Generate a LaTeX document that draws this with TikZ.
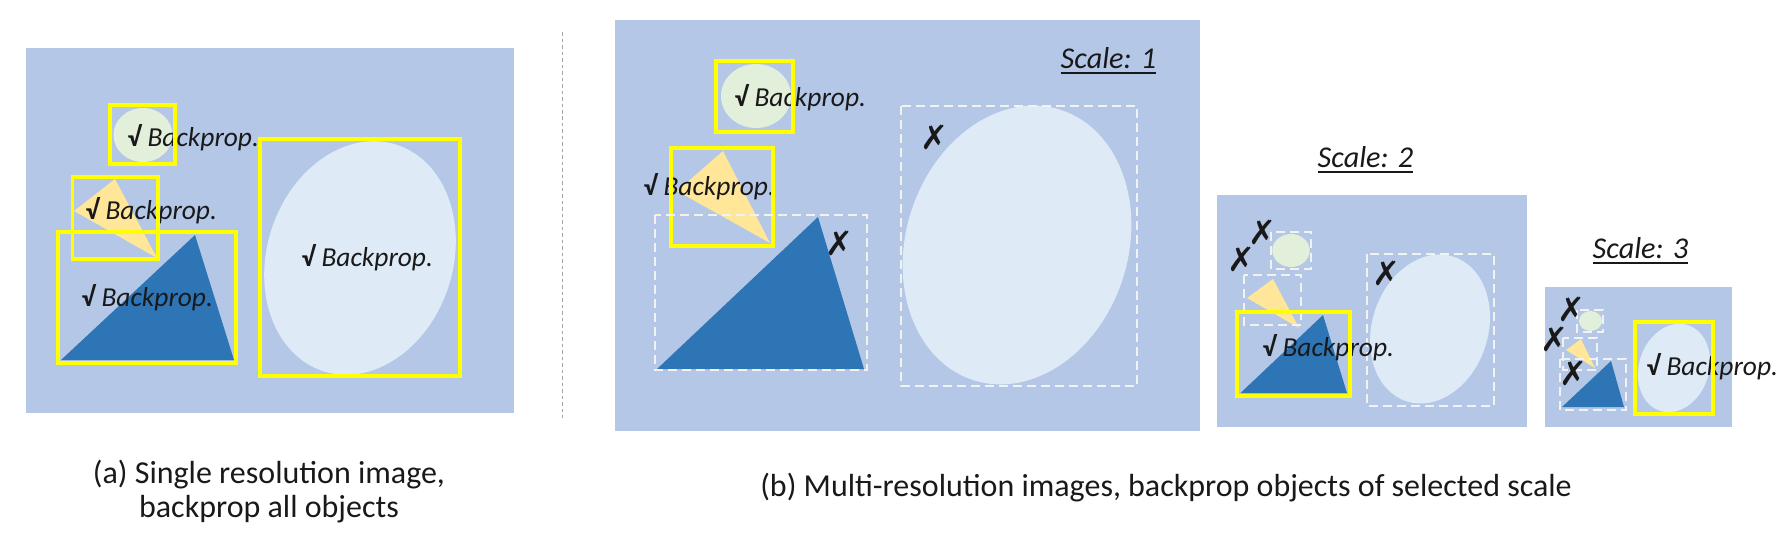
\documentclass[tikz,border=0pt]{standalone}
\usepackage{fontspec}
\setmainfont{Carlito}
\newfontfamily\symfont{DejaVu Sans}
\usetikzlibrary{positioning}

\definecolor{panelbg}{HTML}{B4C7E7}
\definecolor{ballgreen}{HTML}{E2EFDA}
\definecolor{conelight}{HTML}{FFE699}
\definecolor{wedgeblue}{HTML}{2E75B6}
\definecolor{eggpale}{HTML}{DEEBF7}
\definecolor{boxyellow}{HTML}{FFFF00}
\definecolor{boxwhite}{HTML}{F2F2F2}
\definecolor{sepgray}{HTML}{A6A6A6}

\newcommand{\bpok}{{\bfseries √} \textit{Backprop.}}

\begin{document}
\begin{tikzpicture}[x=0.1mm, y=-0.1mm,
    panel/.style={fill=panelbg},
    ybox/.style={draw=boxyellow, line width=0.33mm},
    wbox/.style={draw=boxwhite, line width=0.27mm, dash pattern=on 0.9mm off 0.5mm},
    bp/.style={anchor=base west, inner sep=0pt, text=black!90, font=\fontsize{7.8}{9}\selectfont},
    xm/.style={inner sep=0pt, text=black!90, font=\symfont\fontsize{9.5}{10}\selectfont},
    scl/.style={anchor=base west, inner sep=0pt, text=black!90, font=\fontsize{8.6}{10}\selectfont\itshape},
    captext/.style={anchor=base, inner sep=0pt, text=black!90, font=\fontsize{9.1}{11}\selectfont}]
    \useasboundingbox (0,0) rectangle (1788,545);

    % (a) single resolution
    \fill[panel] (26,48) rectangle (514,413);
    \fill[ballgreen] (143,135) ellipse [x radius=29.5, y radius=27];
    \fill[conelight] (115,179) -- (74,211) -- (157,258) -- cycle;
    \fill[wedgeblue] (61,360) -- (195,235) -- (234,360) -- cycle;
    \fill[eggpale, rotate around={-18:(360,258)}] (360,258) ellipse [x radius=93, y radius=119];
    \node[bp] (aball) at (127,146) {\bpok};
    \node[bp] (acone) at (85,219) {\bpok};
    \node[bp] (awedge) at (81,306) {\bpok};
    \node[bp] (aegg) at (301,266) {\bpok};
    \draw[ybox] (110,105) rectangle (175,164);
    \draw[ybox] (72.5,177) rectangle (158,259);
    \draw[ybox] (58,232) rectangle (236,363);
    \draw[ybox] (260,139) rectangle (460,376);

    % separator
    \draw[sepgray, line width=0.1mm, dash pattern=on 0.35mm off 0.3mm] (562,32) -- (562,418);

    % (b) scale 1
    \fill[panel] (615,20) rectangle (1200,431);
    \node[scl] (sone) at (1060,68) {\underline{Scale: 1}};
    \fill[ballgreen] (756,96) ellipse [x radius=35, y radius=32];
    \fill[conelight] (723,151) -- (677,191) -- (770,243) -- cycle;
    \fill[wedgeblue] (657,369) -- (818,217) -- (864,369) -- cycle;
    \fill[eggpale, rotate around={-18:(1017,245)}] (1017,245) ellipse [x radius=111, y radius=142];
    \node[bp] (oneball) at (734,106) {\bpok};
    \node[bp] (onecone) at (643,195) {\bpok};
    \draw[ybox] (716,61) rectangle (793,132);
    \draw[ybox] (671,148) rectangle (773,246);
    \draw[wbox] (655,215) rectangle (867,370);
    \draw[wbox] (901,106) rectangle (1137,386);
    \node[xm] (onewx) at (839,243) {✗};
    \node[xm] (oneex) at (934,137) {✗};

    % (b) scale 2
    \fill[panel] (1217,195) rectangle (1527,427);
    \node[scl] (stwo) at (1317,167) {\underline{Scale: 2}};
    \fill[ballgreen] (1291,250.5) ellipse [x radius=18.7, y radius=16.5];
    \fill[conelight] (1273,279) -- (1247,298) -- (1299,328) -- cycle;
    \fill[wedgeblue] (1240.5,393) -- (1323,315) -- (1347,393) -- cycle;
    \fill[eggpale, rotate around={-18:(1430,329)}] (1430,329) ellipse [x radius=58, y radius=76];
    \draw[wbox] (1271,232) rectangle (1311,269);
    \draw[wbox] (1244,275) rectangle (1301,325);
    \draw[wbox] (1367,254) rectangle (1494,406);
    \node[bp] (twowedge) at (1262,356) {\bpok};
    \draw[ybox] (1237,312) rectangle (1350,396);
    \node[xm] (twobx) at (1262,232) {✗};
    \node[xm] (twocx) at (1241,259) {✗};
    \node[xm] (twoex) at (1386,273) {✗};

    % (b) scale 3
    \fill[panel] (1545,287) rectangle (1732,427);
    \node[scl] (sthree) at (1592,258) {\underline{Scale: 3}};
    \fill[ballgreen] (1590.5,321) ellipse [x radius=11.5, y radius=10];
    \fill[conelight] (1581,339) -- (1566,350) -- (1595,368) -- cycle;
    \fill[wedgeblue] (1562,407) -- (1611,361) -- (1624,407) -- cycle;
    \fill[eggpale, rotate around={-18:(1674,368)}] (1674,368) ellipse [x radius=35, y radius=45];
    \draw[wbox] (1577,310) rectangle (1603,332);
    \draw[wbox] (1563,338) rectangle (1597,370);
    \draw[wbox] (1560,359) rectangle (1626,410);
    \node[bp] (threeegg) at (1646,375) {\bpok};
    \draw[ybox] (1635,322) rectangle (1713,414);
    \node[xm] (threebx) at (1571,309) {✗};
    \node[xm] (threecx) at (1554,339) {✗};
    \node[xm] (threewx) at (1573,373) {✗};

    % captions
    \node[captext] (capa) at (269,483) {(a) Single resolution image,};
    \node[captext] (capa2) at (269,517) {backprop all objects};
    \node[captext] (capb) at (1166,496) {(b) Multi-resolution images, backprop objects of selected scale};
\end{tikzpicture}
\end{document}
